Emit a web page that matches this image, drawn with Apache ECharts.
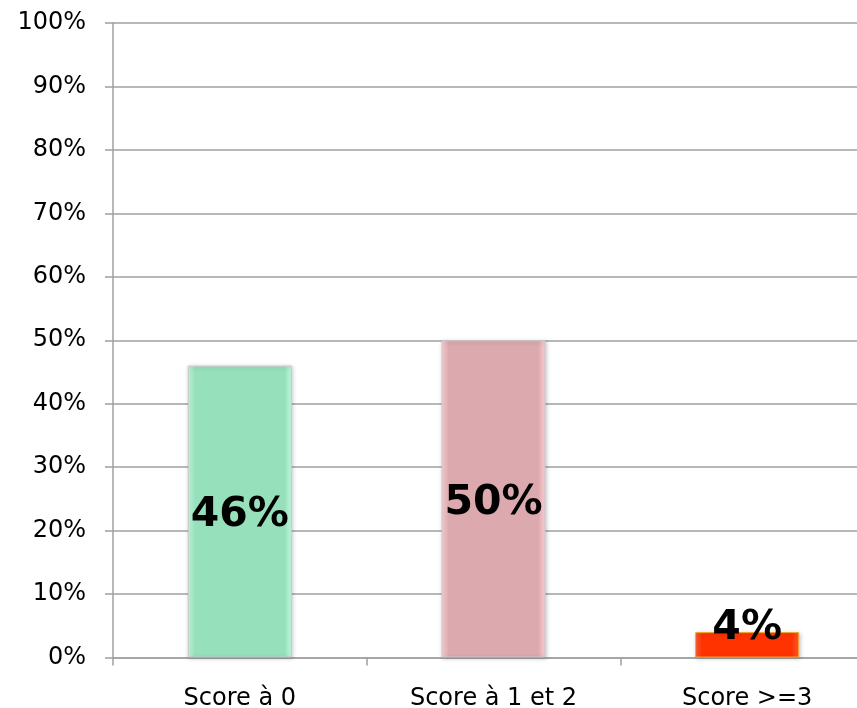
<!DOCTYPE html>
<html>
<head>
<meta charset="utf-8">
<style>
  html, body { margin: 0; padding: 0; background: #ffffff; }
  #chart { width: 857px; height: 708px; }
</style>
<script src="https://cdn.jsdelivr.net/npm/echarts@6/dist/echarts.min.js"></script>
</head>
<body>
<div id="chart"></div>
<script>
// Score categories and their share (percent)
const categories = ['Score à 0', 'Score à 1 et 2', 'Score >=3'];
const shares = [46, 50, 4];
const yTicks = [0, 10, 20, 30, 40, 50, 60, 70, 80, 90, 100];

// Per-bar fill: base colour with lighter bevelled edges
const barColors = [
  { base: '#96e0bb', edge: '#c4fde2', border: '#c9c9c9' },
  { base: '#dba9ae', edge: '#ffd3d8', border: '#c9c9c9' },
  { base: '#ff3300', edge: '#ff5a3a', border: '#f0a830' }
];

function bevel(c) {
  return {
    type: 'linear', x: 0, y: 0, x2: 1, y2: 0,
    colorStops: [
      { offset: 0, color: c.edge },
      { offset: 0.07, color: c.base },
      { offset: 0.93, color: c.base },
      { offset: 1, color: c.edge }
    ]
  };
}

const chart = echarts.init(document.getElementById('chart'), null, { renderer: 'canvas' });

const seriesData = shares.map((v, i) => {
  const item = {
    value: v,
    itemStyle: {
      color: bevel(barColors[i]),
      borderColor: barColors[i].border,
      borderWidth: 1,
      shadowColor: 'rgba(0,0,0,0.22)',
      shadowBlur: 4,
      shadowOffsetX: 1,
      shadowOffsetY: 1
    }
  };
  if (v < 10) {
    item.label = { position: 'top', distance: -13 };
  }
  return item;
});

chart.setOption({
  animation: false,
  backgroundColor: '#ffffff',
  // the plot runs past the right edge of the canvas
  grid: { left: 113, top: 23, right: -17, bottom: 50.5, outerBoundsMode: 'none', containLabel: false },
  xAxis: {
    type: 'category',
    data: categories,
    axisLine: { show: true, lineStyle: { color: '#a0a0a0', width: 1.5 } },
    axisTick: { show: true, length: 8, lineStyle: { color: '#a0a0a0', width: 1.5 } },
    axisLabel: {
      color: '#000000',
      fontFamily: 'DejaVu Sans, Verdana, sans-serif',
      fontSize: 24,
      margin: 29
    }
  },
  yAxis: {
    type: 'value',
    min: yTicks[0],
    max: yTicks[yTicks.length - 1],
    interval: 10,
    axisLine: { show: true, lineStyle: { color: '#a0a0a0', width: 1.5 } },
    axisTick: { show: true, length: 8, lineStyle: { color: '#a0a0a0', width: 1.5 } },
    splitLine: { show: true, lineStyle: { color: '#a0a0a0', width: 1.5 } },
    axisLabel: {
      color: '#000000',
      fontFamily: 'DejaVu Sans, Verdana, sans-serif',
      fontSize: 24,
      margin: 27,
      formatter: v => v + '%'
    }
  },
  series: [{
    type: 'bar',
    data: seriesData,
    barWidth: 104,
    label: {
      show: true,
      position: 'inside',
      offset: [0, 4],
      color: '#000000',
      fontFamily: 'DejaVu Sans, Verdana, sans-serif',
      fontWeight: 'bold',
      fontSize: 41,
      formatter: p => p.value + '%'
    }
  }]
});
</script>
</body>
</html>
